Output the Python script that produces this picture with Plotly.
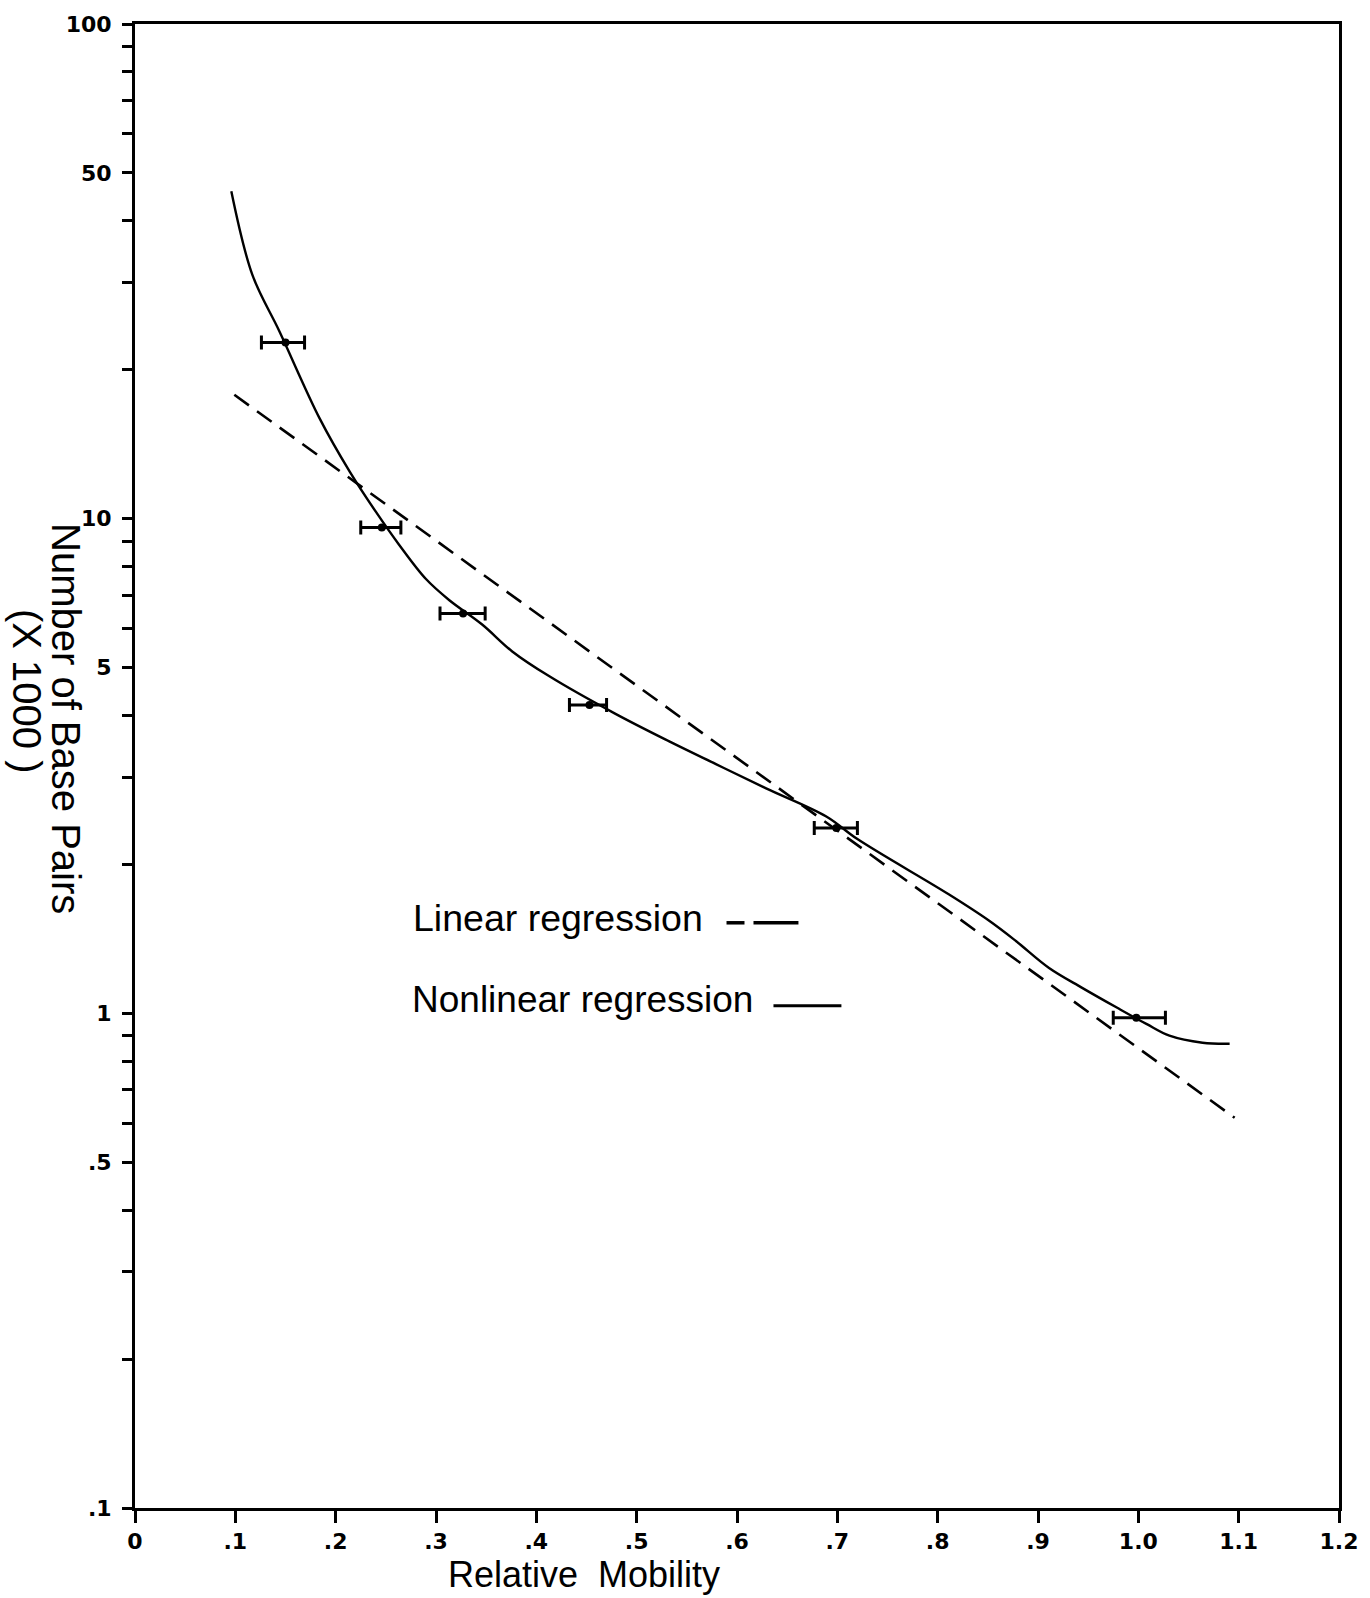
import plotly.graph_objects as go

# ---------------- data ----------------
mobility = [0.150, 0.246, 0.327, 0.453, 0.699, 0.998]
base_pairs_k = [22.7, 9.6, 6.43, 4.2, 2.37, 0.98]
err_minus = [0.024, 0.021, 0.023, 0.020, 0.022, 0.023]
err_plus = [0.019, 0.019, 0.022, 0.017, 0.021, 0.029]

nonlinear_x = [0.096, 0.117, 0.144, 0.184, 0.214, 0.240,
               0.263, 0.290, 0.313, 0.346, 0.376, 0.413, 0.478, 0.532,
               0.579, 0.629, 0.689, 0.720, 0.811, 0.851, 0.878, 0.911, 0.944,
               0.979, 1.008, 1.031, 1.064, 1.091]
nonlinear_y = [45.9, 31.1, 23.9, 15.95, 12.45, 10.33,
               8.87, 7.55, 6.85, 6.11, 5.39, 4.80, 4.04, 3.55,
               3.19, 2.85, 2.50, 2.25, 1.74, 1.54, 1.40, 1.235, 1.126,
               1.026, 0.952, 0.901, 0.872, 0.868]

linear_x = [0.099, 1.096]
linear_y = [17.8, 0.615]

x_tickvals = [0, 0.1, 0.2, 0.3, 0.4, 0.5, 0.6, 0.7, 0.8, 0.9, 1.0, 1.1, 1.2]
x_ticktext = ["0", ".1", ".2", ".3", ".4", ".5", ".6", ".7", ".8", ".9", "1.0", "1.1", "1.2"]

y_tickvals = [0.1, 0.2, 0.3, 0.4, 0.5, 0.6, 0.7, 0.8, 0.9,
              1, 2, 3, 4, 5, 6, 7, 8, 9,
              10, 20, 30, 40, 50, 60, 70, 80, 90, 100]
y_ticktext = [".1", "", "", "", ".5", "", "", "", "",
              "1", "", "", "", "5", "", "", "", "",
              "10", "", "", "", "50", "", "", "", "", "100"]

y_title_1 = "Number of Base Pairs"
y_title_2 = "(X 1000 )"
x_title = "Relative  Mobility"
legend_linear = "Linear regression"
legend_nonlinear = "Nonlinear regression"

# ---------------- figure ----------------
fig = go.Figure()

fig.add_trace(go.Scatter(
    x=linear_x, y=linear_y, mode="lines",
    line=dict(color="black", width=2.6, dash="18px,10px"),
    showlegend=False, hoverinfo="skip"))

fig.add_trace(go.Scatter(
    x=nonlinear_x, y=nonlinear_y, mode="lines",
    line=dict(color="black", width=2.4, shape="spline", smoothing=1.0),
    showlegend=False, hoverinfo="skip"))

fig.add_trace(go.Scatter(
    x=mobility, y=base_pairs_k, mode="markers",
    marker=dict(color="black", size=8),
    error_x=dict(type="data", symmetric=False, array=err_plus, arrayminus=err_minus,
                 color="black", thickness=3, width=7),
    showlegend=False))

LABEL_FONT = "Liberation Sans, Arial, sans-serif"
TICK_FONT = dict(family="DejaVu Sans, sans-serif", size=22, color="black", weight="bold")

fig.update_xaxes(
    range=[0, 1.2], tickmode="array", tickvals=x_tickvals, ticktext=x_ticktext,
    ticks="outside", ticklen=12, tickwidth=2.5, tickcolor="black",
    showline=True, linewidth=3, linecolor="black", mirror=True,
    showgrid=False, zeroline=False, tickfont=TICK_FONT)

fig.update_yaxes(
    type="log", range=[-1, 2], tickmode="array", tickvals=y_tickvals, ticktext=y_ticktext,
    ticks="outside", ticklen=10, tickwidth=3, tickcolor="black",
    showline=True, linewidth=3, linecolor="black", mirror=True,
    showgrid=False, zeroline=False, tickfont=TICK_FONT, ticklabelstandoff=6)

L, R, T, B = 135, 30, 22, 90
W, H = 1370, 1598
pw, ph = W - L - R, H - T - B

def px(x):
    return (x - L) / pw

def py(y):
    return 1 - (y - T) / ph

annotations = [
    dict(text=y_title_1, x=px(66), y=py(717), xref="paper", yref="paper",
         textangle=90, showarrow=False, xanchor="center", yanchor="middle",
         font=dict(family=LABEL_FONT, size=40, color="black")),
    dict(text=y_title_2, x=px(27), y=py(690), xref="paper", yref="paper",
         textangle=90, showarrow=False, xanchor="center", yanchor="middle",
         font=dict(family=LABEL_FONT, size=40, color="black")),
    dict(text=x_title, x=px(584), y=py(1575), xref="paper", yref="paper",
         showarrow=False, xanchor="center", yanchor="middle",
         font=dict(family=LABEL_FONT, size=36, color="black")),
    dict(text=legend_linear, x=px(411), y=py(917), xref="paper", yref="paper",
         showarrow=False, xanchor="left", yanchor="middle",
         font=dict(family=LABEL_FONT, size=37.5, color="black")),
    dict(text=legend_nonlinear, x=px(410), y=py(999), xref="paper", yref="paper",
         showarrow=False, xanchor="left", yanchor="middle",
         font=dict(family=LABEL_FONT, size=37, color="black")),
]

shapes = [
    dict(type="line", xref="paper", yref="paper", x0=px(727), x1=px(745),
         y0=py(922), y1=py(922), line=dict(color="black", width=3.5)),
    dict(type="line", xref="paper", yref="paper", x0=px(754), x1=px(799),
         y0=py(922), y1=py(922), line=dict(color="black", width=3.5)),
    dict(type="line", xref="paper", yref="paper", x0=px(774), x1=px(842),
         y0=py(1005), y1=py(1005), line=dict(color="black", width=3)),
]

fig.update_layout(
    width=W, height=H,
    margin=dict(l=L, r=R, t=T, b=B, pad=0),
    paper_bgcolor="white", plot_bgcolor="white",
    showlegend=False,
    annotations=annotations, shapes=shapes,
)

fig.write_html("out.html", config={"displayModeBar": False},
               post_script="document.body.style.margin='0px';")
